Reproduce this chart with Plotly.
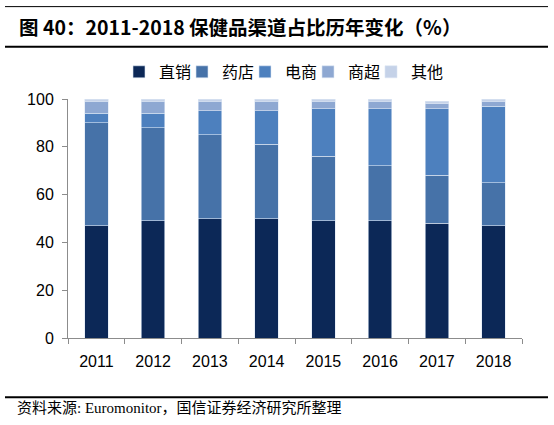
import plotly.graph_objects as go

years = ["2011", "2012", "2013", "2014", "2015", "2016", "2017", "2018"]
direct = [47, 49, 50, 50, 49, 49, 48, 47]      # 直销
pharmacy = [43, 39, 35, 31, 27, 23, 20, 18]    # 药店
ecommerce = [4, 6, 10, 14, 20, 24, 28, 32]     # 电商
supermarket = [5, 5, 4, 4, 3, 3, 2, 2]         # 商超
others = [1, 1, 1, 1, 1, 1, 1, 1]              # 其他

names = ["直销", "药店", "电商", "商超", "其他"]
colors = ["#0C2857", "#4672A8", "#4D80BE", "#8EA8D2", "#C5D2E8"]
series = [direct, pharmacy, ecommerce, supermarket, others]

fig = go.Figure()
for n, c, s in zip(names, colors, series):
    fig.add_trace(go.Bar(x=years, y=s, name=n, marker=dict(color=c, line=dict(color="#DCE6F4", width=0.6))))

axis_font = dict(family="Liberation Sans, Arial, sans-serif", size=16, color="#000000")
fig.update_layout(
    width=554, height=425,
    barmode="stack", bargap=0.59,
    plot_bgcolor="white", paper_bgcolor="white",
    margin=dict(l=68, r=32, t=99, b=87, autoexpand=False),
    showlegend=True,
    legend=dict(orientation="h", x=(131 - 68) / 454, xanchor="left", y=(337 - 72) / 238, yanchor="middle",
                font=dict(family="Noto Sans CJK SC", size=16, color="#000"),
                itemwidth=30, traceorder="normal", entrywidth=30, indentation=-12),
    xaxis=dict(showline=True, linecolor="#8C8C8C", linewidth=1, ticks="outside", tickson="boundaries",
               ticklen=5, tickcolor="#8C8C8C", tickfont=axis_font, showgrid=False, ticklabelstandoff=9),
    yaxis=dict(range=[0, 100], dtick=20, showline=True, linecolor="#8C8C8C", linewidth=1,
               ticks="outside", ticklen=5, tickcolor="#8C8C8C", tickfont=axis_font, showgrid=False,
               zeroline=False, ticklabelstandoff=5),
    font=dict(family="Noto Sans CJK SC"),
)

fig.add_annotation(text="<b>图 40：2011-2018 保健品渠道占比历年变化（%）</b>", xref="paper", yref="paper",
                   x=(17 - 68) / 454, y=(337 - 27) / 238, xanchor="left", yanchor="middle", showarrow=False,
                   font=dict(family="Noto Sans CJK SC", size=19.5, color="#000"))
fig.add_annotation(text="资料来源: Euromonitor，国信证券经济研究所整理", xref="paper", yref="paper",
                   x=(15 - 68) / 454, y=-(407 - 337) / 238, xanchor="left", yanchor="middle", showarrow=False,
                   font=dict(family="Liberation Serif, Noto Sans CJK SC", size=15, color="#000"))

def hline(ypix, w):
    fig.add_shape(type="line", xref="paper", yref="paper", x0=(5 - 68) / 454, x1=(548 - 68) / 454,
                  y0=(337 - ypix) / 238, y1=(337 - ypix) / 238, line=dict(color="#000", width=w))

hline(7, 1)
hline(47, 2)
hline(396, 2)

fig.write_html("out.html", config={"displayModeBar": False},
               post_script="document.body.style.margin='0';")
